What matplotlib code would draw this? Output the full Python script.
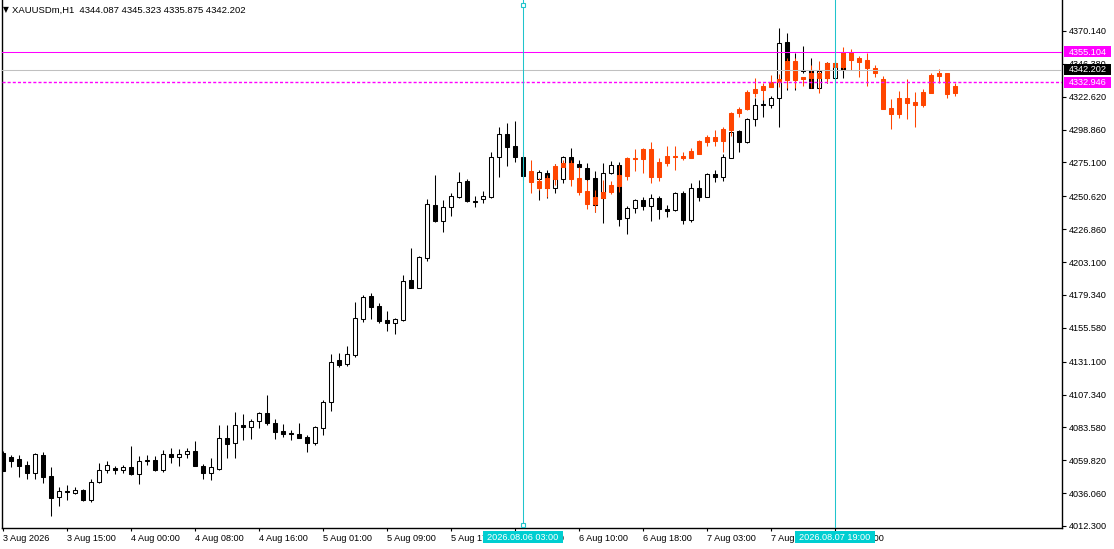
import matplotlib
matplotlib.use('Agg')
import matplotlib.pyplot as plt
from matplotlib.patches import Rectangle

# ---------------- data ----------------
main_open = [4065.3, 4062.0, 4060.5, 4056.4, 4050.4, 4063.6, 4048.5, 4033.1, 4037.8, 4036.4,
             4038.3, 4031.1, 4043.9, 4052.8, 4054.2, 4053.0, 4055.0, 4049.7, 4059.3, 4060.0,
             4052.8, 4064.4, 4062.4, 4064.1, 4066.5, 4055.9, 4050.4, 4053.5, 4075.7, 4072.1,
             4085.3, 4084.1, 4087.9, 4094.0, 4086.6, 4081.0, 4079.5, 4078.8, 4076.4, 4072.5,
             4082.9, 4101.7, 4132.3, 4129.4, 4135.9, 4161.9, 4178.6, 4171.3, 4161.2, 4158.8,
             4161.2, 4190.1, 4184.6, 4206.3, 4244.4, 4233.0, 4242.7, 4250.4, 4261.7, 4247.3,
             4248.5, 4250.4, 4278.8, 4295.5, 4287.0, 4278.8, 4265.3, 4262.9, 4267.3, 4256.4,
             4262.9, 4278.8, 4273.9, 4270.9, 4263.7, 4249.6, 4267.7, 4273.1, 4234.7, 4242.0,
             4248.0, 4243.9, 4249.2, 4241.3, 4240.7, 4252.8, 4233.5, 4256.9, 4250.4, 4266.8,
             4264.8, 4278.6, 4297.9, 4290.1, 4306.3, 4317.2, 4316.7, 4321.5, 4362.0, 4347.7,
             4342.0, 4342.0, 4329.2, 4336.2, 4336.0, 4344.087]
main_high = [4066.5, 4063.6, 4063.6, 4059.3, 4064.9, 4065.6, 4055.0, 4040.7, 4041.7, 4040.3,
             4038.8, 4046.1, 4057.6, 4059.3, 4055.7, 4056.4, 4070.1, 4063.1, 4063.6, 4062.9,
             4067.2, 4068.5, 4068.0, 4068.5, 4073.8, 4056.9, 4061.7, 4085.3, 4085.1, 4094.5,
             4093.3, 4089.7, 4094.9, 4107.0, 4089.7, 4086.0, 4081.7, 4086.8, 4078.1, 4084.6,
             4103.4, 4136.6, 4137.6, 4142.4, 4174.5, 4179.3, 4181.0, 4173.7, 4167.7, 4162.5,
             4193.8, 4213.4, 4207.5, 4248.7, 4266.0, 4248.0, 4253.3, 4268.0, 4263.2, 4250.9,
             4254.5, 4282.9, 4300.5, 4303.4, 4305.1, 4282.7, 4268.2, 4269.7, 4269.7, 4273.9,
             4279.7, 4285.3, 4276.9, 4274.8, 4268.9, 4274.5, 4276.2, 4275.7, 4243.6, 4248.7,
             4250.4, 4252.3, 4250.9, 4244.4, 4254.0, 4254.5, 4260.2, 4262.4, 4267.7, 4269.7,
             4281.2, 4299.8, 4298.6, 4306.9, 4321.9, 4322.1, 4323.5, 4372.1, 4368.5, 4354.0,
             4359.3, 4350.8, 4342.0, 4347.7, 4349.2, 4345.323]
main_low = [4052.1, 4054.7, 4047.5, 4046.5, 4046.1, 4043.6, 4019.8, 4027.0, 4031.1, 4035.4,
            4030.6, 4029.9, 4043.6, 4050.8, 4049.9, 4050.4, 4049.2, 4042.9, 4056.4, 4052.3,
            4051.3, 4057.6, 4055.9, 4061.2, 4055.7, 4046.5, 4045.6, 4052.8, 4061.7, 4061.7,
            4074.5, 4075.2, 4083.4, 4085.3, 4075.2, 4076.9, 4074.5, 4076.1, 4066.0, 4070.9,
            4078.1, 4095.7, 4127.3, 4128.0, 4134.7, 4160.0, 4161.9, 4159.3, 4153.5, 4150.9,
            4160.7, 4184.1, 4184.1, 4204.1, 4232.3, 4224.7, 4236.6, 4249.2, 4246.7, 4243.1,
            4246.0, 4249.6, 4264.8, 4272.8, 4275.2, 4262.4, 4258.8, 4248.0, 4249.6, 4252.8,
            4260.5, 4273.6, 4269.7, 4261.7, 4239.3, 4231.1, 4266.8, 4229.4, 4223.5, 4238.8,
            4240.7, 4233.0, 4234.5, 4235.9, 4240.0, 4230.4, 4231.9, 4247.5, 4249.9, 4261.2,
            4261.9, 4278.3, 4282.9, 4289.4, 4301.5, 4308.2, 4314.5, 4301.0, 4327.5, 4327.5,
            4339.6, 4328.9, 4328.7, 4332.3, 4334.7, 4335.875]
main_close = [4052.3, 4059.5, 4055.9, 4050.4, 4064.1, 4048.0, 4032.8, 4037.6, 4036.7, 4038.3,
              4031.1, 4044.1, 4052.8, 4056.4, 4053.0, 4055.0, 4049.9, 4059.3, 4060.0, 4052.8,
              4064.4, 4062.4, 4064.4, 4066.5, 4055.9, 4050.4, 4054.7, 4075.7, 4071.4, 4085.3,
              4084.1, 4087.9, 4094.0, 4086.6, 4080.5, 4078.8, 4078.6, 4076.1, 4072.5, 4083.7,
              4101.7, 4130.9, 4128.7, 4136.6, 4162.5, 4178.1, 4170.8, 4160.7, 4158.8, 4161.7,
              4189.4, 4184.6, 4206.5, 4245.1, 4232.8, 4242.7, 4250.9, 4260.8, 4247.3, 4246.5,
              4250.9, 4278.8, 4295.5, 4286.5, 4278.8, 4265.5, 4261.7, 4268.0, 4256.4, 4265.2,
              4278.8, 4274.5, 4271.5, 4263.1, 4244.4, 4267.3, 4273.1, 4234.0, 4242.0, 4248.0,
              4243.9, 4249.2, 4241.3, 4240.2, 4252.8, 4233.5, 4256.9, 4250.4, 4266.8, 4264.8,
              4278.8, 4297.3, 4290.1, 4306.3, 4316.7, 4316.4, 4321.5, 4361.3, 4336.2, 4336.2,
              4341.2, 4329.2, 4341.2, 4347.0, 4346.8, 4342.202]

overlay_start = 66
overlay_open = [4268.9, 4261.7, 4264.1, 4272.6, 4274.9, 4274.9, 4264.1, 4254.7, 4250.4, 4254.0,
                4258.8, 4266.0, 4278.6, 4278.3, 4284.8, 4284.8, 4275.2, 4279.6, 4279.7, 4279.9,
                4283.6, 4290.6, 4293.3, 4293.3, 4299.3, 4311.1, 4313.5, 4326.3, 4328.2, 4330.6,
                4333.5, 4335.2, 4348.7, 4348.7, 4337.1, 4339.6, 4339.6, 4347.2, 4347.2, 4355.2,
                4355.2, 4350.8, 4349.2, 4343.2, 4335.2, 4314.7, 4321.5, 4321.5, 4318.6, 4326.3,
                4338.3, 4339.6, 4339.6, 4330.6]
overlay_high = [4276.9, 4263.9, 4266.0, 4273.9, 4276.9, 4276.9, 4271.5, 4262.4, 4255.1, 4262.4,
                4261.7, 4273.2, 4279.3, 4284.6, 4285.6, 4290.1, 4278.6, 4287.0, 4287.0, 4282.9,
                4285.8, 4291.3, 4294.7, 4298.6, 4300.5, 4311.6, 4315.4, 4327.5, 4336.0, 4332.3,
                4338.3, 4339.1, 4350.6, 4350.6, 4337.1, 4345.6, 4348.5, 4348.0, 4348.5, 4358.8,
                4357.1, 4352.1, 4354.0, 4345.6, 4337.6, 4321.0, 4327.0, 4335.2, 4326.3, 4328.0,
                4340.0, 4342.5, 4339.6, 4332.3]
overlay_low = [4253.2, 4255.1, 4250.4, 4258.8, 4271.8, 4258.1, 4251.9, 4241.4, 4239.5, 4249.4,
               4252.2, 4254.0, 4262.4, 4269.2, 4267.3, 4260.5, 4261.9, 4272.8, 4269.7, 4276.9,
               4278.3, 4281.4, 4287.2, 4287.2, 4282.9, 4294.2, 4308.2, 4313.0, 4322.6, 4320.3,
               4329.7, 4329.7, 4328.7, 4328.7, 4330.6, 4328.7, 4325.1, 4332.3, 4343.4, 4342.5,
               4342.0, 4337.1, 4330.6, 4337.1, 4313.8, 4299.3, 4307.0, 4306.5, 4301.0, 4315.0,
               4325.1, 4332.8, 4321.5, 4323.4]
overlay_close = [4261.2, 4256.9, 4256.4, 4263.1, 4272.0, 4263.1, 4253.5, 4244.9, 4244.9, 4249.6,
                 4253.5, 4258.1, 4265.5, 4277.8, 4277.6, 4264.8, 4264.8, 4274.9, 4279.3, 4278.3,
                 4278.6, 4281.4, 4290.1, 4290.6, 4290.8, 4298.6, 4310.6, 4313.5, 4325.1, 4327.3,
                 4329.9, 4333.1, 4334.7, 4334.7, 4335.4, 4336.0, 4336.0, 4336.0, 4344.3, 4344.3,
                 4349.2, 4348.0, 4343.6, 4340.0, 4313.8, 4310.1, 4310.1, 4318.3, 4316.6, 4316.6,
                 4325.5, 4337.8, 4324.6, 4325.1]

xtick_bars = [0, 8, 16, 24, 32, 40, 48, 56, 64, 72, 80, 88, 96, 104]
xtick_labels = ["3 Aug 2026", "3 Aug 15:00", "4 Aug 00:00", "4 Aug 08:00", "4 Aug 16:00",
                "5 Aug 01:00", "5 Aug 09:00", "5 Aug 17:00", "6 Aug 02:00", "6 Aug 10:00",
                "6 Aug 18:00", "7 Aug 03:00", "7 Aug 11:00", "7 Aug 19:00"]
ytick_values = [4370.140, 4346.380, 4322.620, 4298.860, 4275.100, 4250.620, 4226.860, 4203.100,
                4179.340, 4155.580, 4131.100, 4107.340, 4083.580, 4059.820, 4036.060, 4012.300]

hline_prices = [4355.104, 4342.202, 4332.946]
vline_bars = [65, 104]
vline_labels = ["2026.08.06 03:00", "2026.08.07 19:00"]
title_text = "XAUUSDm,H1  4344.087 4345.323 4335.875 4342.202"

# ---------------- figure ----------------
W, H = 1114, 549
fig = plt.figure(figsize=(W / 100, H / 100), dpi=100)
fig.patch.set_facecolor('white')
FONT = ['Liberation Sans', 'DejaVu Sans']
plt.rcParams['font.family'] = FONT

def fx(px):
    return px / W

def fy(py):
    return 1 - py / H

ax_left, ax_right, ax_top, ax_bot = 1.5, 1062, 0, 528
ax = fig.add_axes([fx(ax_left), fy(ax_bot), fx(ax_right - ax_left), (ax_bot - ax_top) / H])
ax.set_facecolor('white')

bar_px = 8.0
ax.set_xlim((ax_left - 3) / bar_px, (ax_right - 3) / bar_px)
ax.set_ylim(4010.85, 4392.55)

LW = 0.75
BW = 0.56
ORANGE = '#FF4500'

# main candles
n = len(main_open)
xs = list(range(n))
ax.vlines(xs, main_low, main_high, color='black', linewidth=LW, zorder=2)
for i in range(n):
    o, c = main_open[i], main_close[i]
    bull = c >= o
    lo, hi = min(o, c), max(o, c)
    ax.add_patch(Rectangle((i - BW / 2, lo), BW, max(hi - lo, 0.01),
                           facecolor='white' if bull else 'black', edgecolor='black',
                           linewidth=LW, zorder=3))

# overlay candles
m = len(overlay_open)
oxs = [overlay_start + j for j in range(m)]
ax.vlines(oxs, overlay_low, overlay_high, color=ORANGE, linewidth=LW, zorder=4)
for j in range(m):
    o, c = overlay_open[j], overlay_close[j]
    lo, hi = min(o, c), max(o, c)
    ax.add_patch(Rectangle((oxs[j] - BW / 2, lo), BW, max(hi - lo, 0.01),
                           facecolor=ORANGE, edgecolor=ORANGE, linewidth=LW, zorder=5))

# horizontal lines
ax.axhline(hline_prices[0], color='#FF00FF', linewidth=LW, zorder=6)
ax.axhline(hline_prices[1], color='#C0C0C0', linewidth=LW, zorder=6)
ax.axhline(hline_prices[2], color='#FF00FF', linewidth=1.0, dashes=(2.2, 1.5), zorder=6)

# vertical lines
CYAN = '#20C4CC'
for k in vline_bars:
    ax.axvline(k, color=CYAN, linewidth=LW, zorder=7)
ax.plot([vline_bars[0]], [4392.55 - 0.72291 * 5], marker='s', markersize=3.2,
        markerfacecolor='white', markeredgecolor=CYAN, markeredgewidth=0.8, zorder=8,
        clip_on=False)
ax.plot([vline_bars[0]], [4392.55 - 0.72291 * 525.5], marker='s', markersize=3.2,
        markerfacecolor='white', markeredgecolor=CYAN, markeredgewidth=0.8, zorder=8,
        clip_on=False)

# axes styling
for s in ['top']:
    ax.spines[s].set_visible(False)
for s in ['left', 'bottom', 'right']:
    ax.spines[s].set_linewidth(1.0)
    ax.spines[s].set_color('black')

ax.yaxis.tick_right()
ax.set_yticks(ytick_values)
ax.set_yticklabels([f"{v:.3f}" for v in ytick_values])
ax.tick_params(axis='y', direction='out', length=3, width=0.8, pad=2.2, labelsize=6.6,
               colors='black')
ax.set_xticks(xtick_bars)
ax.set_xticklabels(xtick_labels, ha='left')
ax.tick_params(axis='x', direction='out', length=2.5, width=0.8, pad=1.5, labelsize=6.6,
               colors='black')
for lab in ax.get_xticklabels():
    lab.set_horizontalalignment('left')

# right-side price labels
label_styles = [('#FF00FF', 'white'), ('black', 'white'), ('#FF00FF', 'white')]
for price, (bg, fg) in zip(hline_prices, label_styles):
    py = (4392.55 - price) / 0.72291
    fig.patches.append(Rectangle((fx(1064), fy(py + 5.5)), fx(47), 11 / H,
                                 transform=fig.transFigure, facecolor=bg, edgecolor='none',
                                 zorder=10))
    fig.text(fx(1087.5), fy(py + 0.3), f"{price:.3f}", color=fg, fontsize=6.6,
             ha='center', va='center', zorder=11)

# bottom time labels for vertical lines
for k, txt in zip(vline_bars, vline_labels):
    px = 3 + bar_px * k
    fig.patches.append(Rectangle((fx(px - 40), fy(543)), fx(80), 12 / H,
                                 transform=fig.transFigure, facecolor='#00CED1',
                                 edgecolor='none', zorder=10))
    fig.text(fx(px), fy(537), txt, color='white', fontsize=6.6, ha='center', va='center',
             zorder=11)

# title
fig.text(fx(3), fy(10), "\u25BC", fontsize=5.5, ha='left', va='center',
         family=['DejaVu Sans'], color='black')
fig.text(fx(12), fy(10), title_text, fontsize=6.8, ha='left', va='center', color='black')

fig.savefig('out.png', dpi=100, facecolor='white')
